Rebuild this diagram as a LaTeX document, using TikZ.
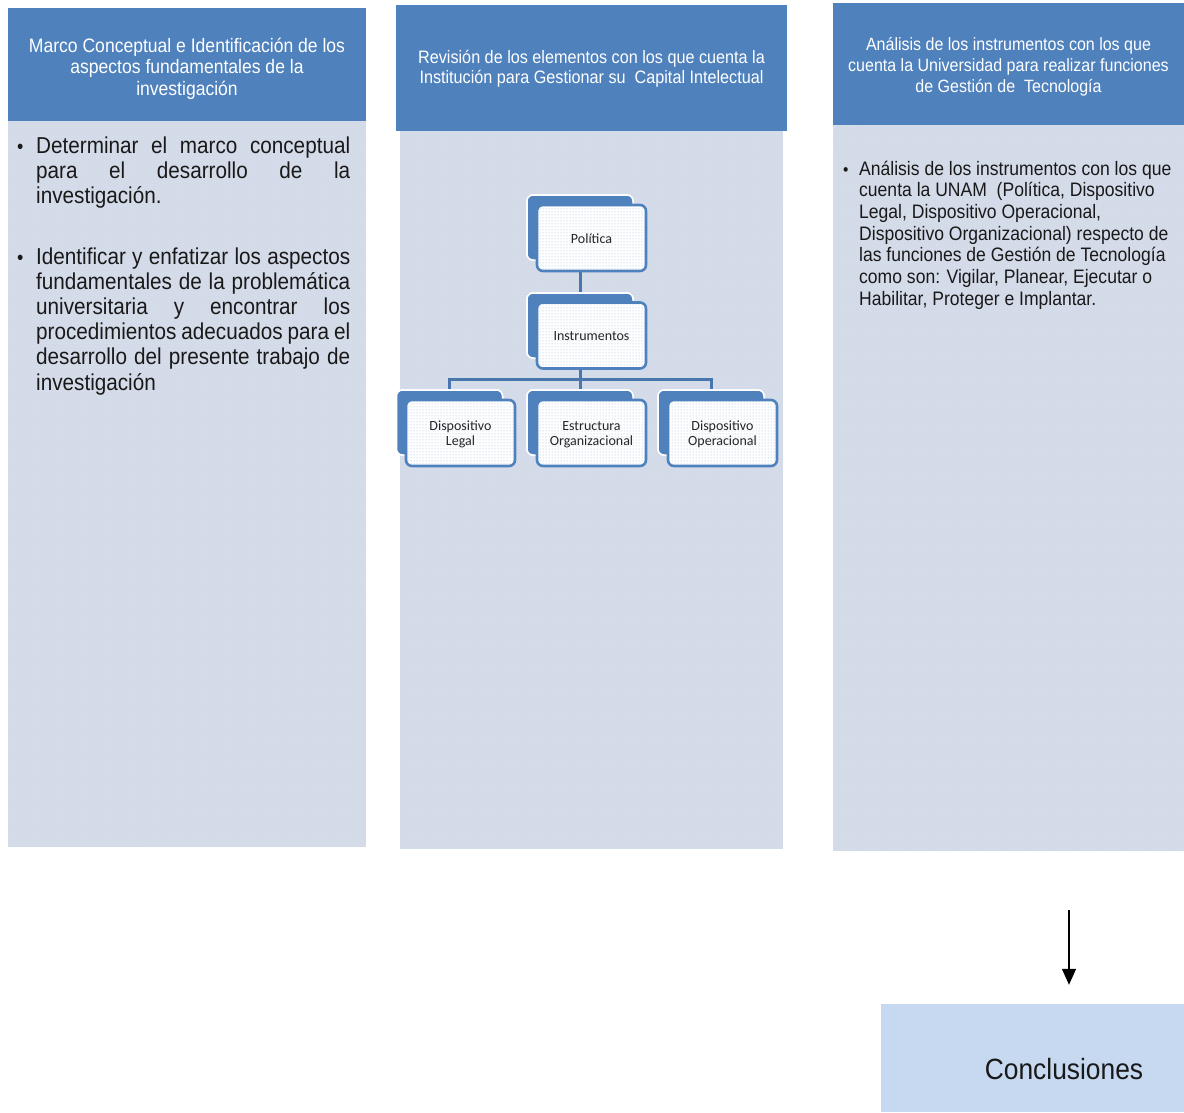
\documentclass[tikz,border=0pt]{standalone}
\usepackage{fontspec}
\setmainfont{Liberation Sans}[FakeStretch=0.9]
\newfontfamily\orgfont{Carlito}
\usetikzlibrary{patterns,arrows.meta}
\definecolor{hblue}{HTML}{4F81BD}
\definecolor{bodyc}{HTML}{D3DAE8}
\definecolor{dotc}{HTML}{E4E9F2}
\definecolor{concc}{HTML}{C6D9F1}
\definecolor{lineblue}{HTML}{4A76AE}
\definecolor{fdot}{HTML}{9DB8DC}
\begin{document}
\begin{tikzpicture}[x=1pt,y=-1pt,
  header/.style={fill=hblue,text=white,inner sep=0pt,align=center},
  htext/.style={text=white,inner sep=0pt,align=center},
  bodybox/.style={preaction={fill=bodyc},pattern=dots,pattern color=dotc,inner sep=0pt},
  backbox/.style={fill=hblue,draw=white,line width=1.5pt,rounded corners=6pt,
     minimum width=106pt,minimum height=65pt,inner sep=0pt},
  frontbox/.style={preaction={fill=white},pattern=dots,pattern color=fdot,draw=hblue,
     line width=2.6pt,rounded corners=6pt,minimum width=109pt,minimum height=66pt,
     inner sep=0pt},
  orgtext/.style={inner sep=0pt,align=center,font=\orgfont\fontsize{14}{15.5}\selectfont,text=black!85},
  conn/.style={draw=lineblue,line width=3pt},
  ltext/.style={anchor=base west,inner sep=0pt,align=left,text=black!90},
]
\useasboundingbox (0,0) rectangle (1184,1112);

% ---------- columns ----------
\node[bodybox,minimum width=358pt,minimum height=726pt] (b1) at (187,484) {};
\node[bodybox,minimum width=383pt,minimum height=718pt] (b2) at (591.5,490) {};
\node[bodybox,minimum width=351pt,minimum height=726pt] (b3) at (1008.5,488) {};

\node[header,minimum width=358pt,minimum height=113pt] (h1) at (187,64.5) {};
\node[header,minimum width=391pt,minimum height=126pt] (h2) at (591.5,68) {};
\node[header,minimum width=351pt,minimum height=122pt] (h3) at (1008.5,64) {};

\node[htext,font=\fontsize{19.5}{21.5}\selectfont] (h1t) at (187,68.5)
  {Marco Conceptual e Identificación de los\\aspectos fundamentales de la\\investigación};
\node[htext,font=\fontsize{18}{20.5}\selectfont] (h2t) at (591.5,68.5)
  {Revisión de los elementos con los que cuenta la\\Institución para Gestionar su\ \ Capital Intelectual};
\node[htext,font=\fontsize{17.8}{20.8}\selectfont] (h3t) at (1008.5,67)
  {Análisis de los instrumentos con los que\\cuenta la Universidad para realizar funciones\\de Gestión de\ \ Tecnología};

% ---------- left body text ----------
\node[ltext,font=\fontsize{20}{25}\selectfont] (bul1) at (17,153) {•};
\node[ltext,font=\fontsize{23}{25}\selectfont] (t1) at (36,203)
  {\makebox[314pt][s]{Determinar el marco conceptual}\\
   \makebox[314pt][s]{para el desarrollo de la}\\
   investigación.};
\node[ltext,font=\fontsize{20}{25}\selectfont] (bul2) at (17,264) {•};
\node[ltext,font=\fontsize{23}{25.2}\selectfont] (t2) at (36,390)
  {\makebox[314pt][s]{Identificar y enfatizar los aspectos}\\
   \makebox[314pt][s]{fundamentales de la problemática}\\
   \makebox[314pt][s]{universitaria y encontrar los}\\
   \makebox[314pt][s]{procedimientos adecuados para el}\\
   \makebox[314pt][s]{desarrollo del presente trabajo de}\\
   investigación};

% ---------- right body text ----------
\node[ltext,font=\fontsize{17}{21.7}\selectfont] (bul3) at (843,175) {•};
\node[ltext,font=\fontsize{19.5}{21.7}\selectfont] (t3) at (859,305.2)
  {Análisis de los instrumentos con los que\\
   cuenta la UNAM\ \ (Política, Dispositivo\\
   Legal, Dispositivo Operacional,\\
   Dispositivo Organizacional) respecto de\\
   las funciones de Gestión de Tecnología\\
   como son: Vigilar, Planear, Ejecutar o\\
   Habilitar, Proteger e Implantar.};

% ---------- org chart ----------
\coordinate (bar) at (580,379);
\node[backbox] (polb) at (580,227.5) {};
\node[backbox] (insb) at (580,325.5) {};
\node[backbox] (dlb) at (449.5,422.5) {};
\node[backbox] (eob) at (580,422.5) {};
\node[backbox] (dob) at (711,422.5) {};

\draw[conn] (polb.south) -- (insb.north);
\draw[conn] (insb.south) -- (bar);
\draw[conn] (dlb.north) |- (bar) -| (dob.north);
\draw[conn] (bar) -- (eob.north);

% redraw backs over connectors
\node[backbox] at (polb) {};
\node[backbox] at (insb) {};
\node[backbox] at (dlb) {};
\node[backbox] at (eob) {};
\node[backbox] at (dob) {};

\node[frontbox] (pol) at (591.5,238) {};
\node[frontbox] (ins) at (591.5,335.5) {};
\node[frontbox] (dl) at (460.5,433) {};
\node[frontbox] (eo) at (591.5,433) {};
\node[frontbox] (do) at (722.5,433) {};
\node[orgtext] (polt) at (591.5,239) {Política};
\node[orgtext] (inst) at (591.5,336) {Instrumentos};
\node[orgtext] (dlt) at (460.5,434.5) {Dispositivo\\Legal};
\node[orgtext] (eot) at (591.5,434.5) {Estructura\\Organizacional};
\node[orgtext] (dot) at (722.5,434.5) {Dispositivo\\Operacional};

% ---------- conclusions ----------
\node[fill=concc,minimum width=303pt,minimum height=108pt,inner sep=0pt] (concl) at (1032.5,1058) {};
\node[inner sep=0pt,font=\fontsize{29.3}{31}\selectfont,text=black!90] (conclt) at (1064,1069) {Conclusiones};
\coordinate (arrs) at (1069,910);
\draw[line width=1.3pt,-{Triangle[length=16pt,width=14pt]},shorten >=19pt] (arrs) -- (arrs |- concl.north);
\end{tikzpicture}
\end{document}
